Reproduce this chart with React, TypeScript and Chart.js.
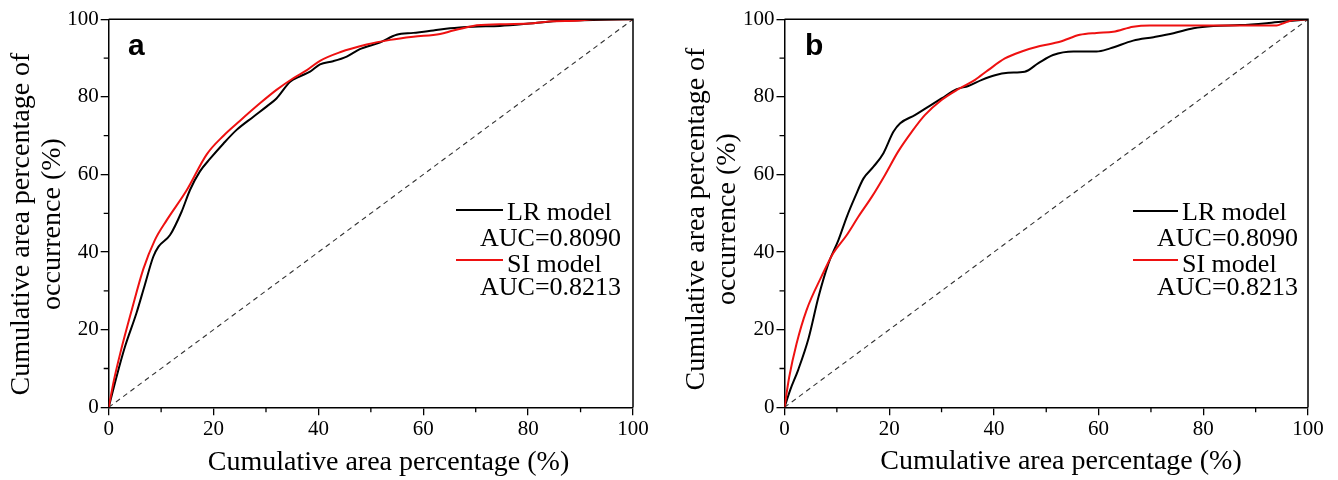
import React, { useEffect, useRef } from "react";
import { Chart, registerables } from "chart.js";

Chart.register(...registerables);

// ---------- data ----------
const majorTicks = [0, 20, 40, 60, 80, 100];
const minorTicks = [10, 30, 50, 70, 90];
const xTitle = "Cumulative area percentage (%)";
const yTitle = ["Cumulative area percentage of", "occurrence (%)"];
const seriesNames = ["LR model", "SI model"];
const aucLabels = ["AUC=0.8090", "AUC=0.8213"];
const panelLabels = ["a", "b"];

// Panel a – LR model
const lrAX = [0, 1.5, 3.1, 5.3, 6.9, 8.5, 9.5, 11.7, 13.9, 15.5, 17.4, 19.3, 21.9, 24.4, 27.6, 30.1, 32, 34.6, 36.5, 38.4, 40.3, 42.8, 45.4, 47.9, 51.7, 54.9, 58.1, 61.9, 65.1, 69.5, 74.6, 81, 86.1, 92.4, 100];
const lrAY = [0, 7.9, 15.6, 24.3, 31.6, 38.8, 41.4, 44.4, 50.4, 56, 60.8, 64.0, 68, 71.5, 74.9, 77.5, 79.6, 83.9, 85.3, 86.5, 88.4, 89.2, 90.4, 92.3, 94, 96, 96.5, 97.1, 97.7, 98.1, 98.3, 99, 99.6, 99.8, 100];
// Panel a – SI model
const siAX = [0, 1.0, 2.2, 4.4, 6.6, 8.8, 11.1, 14.9, 18.7, 21.9, 25, 28.9, 32, 35.2, 37.8, 40.3, 44.1, 49.2, 53.7, 58.1, 63.2, 65.7, 69.5, 74.6, 81, 84.8, 89.3, 92.4, 100];
const siAY = [0, 7.0, 13.9, 25.1, 35.6, 43.1, 48.3, 56.0, 65.2, 70.0, 73.8, 78.4, 81.8, 84.8, 86.9, 89.3, 91.5, 93.5, 94.7, 95.5, 96.2, 97.1, 98.3, 98.7, 99, 99.5, 99.6, 100, 100];
// Panel b – LR model
const lrBX = [0, 1.1, 2.6, 4.6, 6.5, 8.4, 10.3, 11.9, 13.5, 15.1, 17, 18.9, 20.8, 22.1, 24.9, 27.5, 30, 32.9, 35.1, 37.7, 40.2, 42.7, 45.9, 48.5, 51.3, 55.2, 59.6, 62.2, 66.6, 70.5, 74.3, 78.1, 81.9, 87, 92.1, 95.9, 100];
const lrBY = [0, 4.5, 9.6, 17.8, 28.5, 37.1, 43.1, 49.1, 54.3, 59, 62, 65.5, 71, 73.2, 75.3, 77.5, 79.6, 82, 82.8, 84.4, 85.6, 86.2, 86.5, 88.7, 90.8, 91.7, 91.7, 92.5, 94.5, 95.4, 96.4, 97.7, 98.3, 98.5, 99, 99.5, 100];
// Panel b – SI model
const siBX = [0, 0.9, 2.3, 4.2, 7.1, 9.3, 11.9, 14.1, 16.7, 19.2, 21.7, 24.3, 26.8, 30, 33.2, 36.4, 38.9, 42.1, 45.3, 48.8, 52.6, 56.4, 59.6, 62.8, 66.6, 69.8, 79.4, 85.7, 94, 95.3, 97.2, 100];
const siBY = [0, 7.8, 16.4, 25, 33.8, 39.7, 44.4, 49.1, 54.3, 59.9, 65.9, 71, 75.3, 79.2, 82, 84.4, 86.9, 89.9, 91.7, 93.1, 94.2, 96, 96.5, 96.8, 98.1, 98.4, 98.4, 98.4, 98.4, 99, 99.8, 100];
// reference diagonal
const diagX = [0, 100];
const diagY = [0, 100];

// ---------- styling / layout ----------
const W = 669;
const H = 480;
const SERIF = '"Liberation Serif", "Times New Roman", serif';
const SANS = '"Liberation Sans", Arial, sans-serif';
const BLACK = "#000000";
const RED = "#ee1111";

type PanelLayout = {
  offset: number;
  left: number;
  right: number;
  top: number;
  bottom: number;
  xTitleX: number;
  xTitleY: number;
  yTitleX: number[];
  yTitleY: number;
  labelX: number;
  labelY: number;
  legLine: number[];
  legText: number;
  legAuc: number;
  legRows: number[];
};

const layoutA: PanelLayout = {
  offset: 0,
  left: 108.7,
  right: 633,
  top: 19.3,
  bottom: 407.3,
  xTitleX: 388.5,
  xTitleY: 470,
  yTitleX: [29, 60],
  yTitleY: 224,
  labelX: 128,
  labelY: 55,
  legLine: [456, 503],
  legText: 507,
  legAuc: 480,
  legRows: [210, 219.5, 246, 260, 272, 295],
};

const layoutB: PanelLayout = {
  offset: 669,
  left: 115.5,
  right: 639,
  top: 19.3,
  bottom: 407.3,
  xTitleX: 392,
  xTitleY: 469,
  yTitleX: [35, 66],
  yTitleY: 219,
  labelX: 136,
  labelY: 55,
  legLine: [464, 509],
  legText: 513,
  legAuc: 488,
  legRows: [211, 219.5, 246, 260, 272, 295],
};

const pts = (xs: number[], ys: number[]) => xs.map((x, i) => ({ x, y: ys[i] }));

function makeDecor(L: PanelLayout, label: string) {
  return {
    id: "decor",
    afterDraw(chart: any) {
      const ctx = chart.ctx as CanvasRenderingContext2D;
      const ca = chart.chartArea;
      const xs = chart.scales.x;
      const ys = chart.scales.y;
      ctx.save();
      // top & right frame
      ctx.strokeStyle = BLACK;
      ctx.lineWidth = 1.5;
      ctx.beginPath();
      ctx.moveTo(ca.left, ca.top);
      ctx.lineTo(ca.right, ca.top);
      ctx.lineTo(ca.right, ca.bottom);
      ctx.stroke();
      // minor ticks
      ctx.lineWidth = 1.3;
      ctx.beginPath();
      minorTicks.forEach((v) => {
        const px = xs.getPixelForValue(v);
        ctx.moveTo(px, ca.bottom);
        ctx.lineTo(px, ca.bottom + 5);
        const py = ys.getPixelForValue(v);
        ctx.moveTo(ca.left, py);
        ctx.lineTo(ca.left - 5, py);
      });
      ctx.stroke();

      // axis titles
      ctx.fillStyle = BLACK;
      ctx.font = `28px ${SERIF}`;
      ctx.textAlign = "center";
      ctx.textBaseline = "alphabetic";
      ctx.fillText(xTitle, L.xTitleX, L.xTitleY);
      yTitle.forEach((line, i) => {
        ctx.save();
        ctx.translate(L.yTitleX[i], L.yTitleY);
        ctx.rotate(-Math.PI / 2);
        ctx.fillText(line, 0, 0);
        ctx.restore();
      });

      // panel label
      ctx.font = `bold 30px ${SANS}`;
      ctx.textAlign = "left";
      ctx.fillText(label, L.labelX, L.labelY);

      // legend
      const r = L.legRows;
      ctx.lineWidth = 2;
      ctx.strokeStyle = BLACK;
      ctx.beginPath();
      ctx.moveTo(L.legLine[0], r[0]);
      ctx.lineTo(L.legLine[1], r[0]);
      ctx.stroke();
      ctx.strokeStyle = RED;
      ctx.beginPath();
      ctx.moveTo(L.legLine[0], r[3]);
      ctx.lineTo(L.legLine[1], r[3]);
      ctx.stroke();
      ctx.font = `26px ${SERIF}`;
      ctx.fillStyle = BLACK;
      ctx.fillText(seriesNames[0], L.legText, r[1]);
      ctx.fillText(aucLabels[0], L.legAuc, r[2]);
      ctx.fillText(seriesNames[1], L.legText, r[4]);
      ctx.fillText(aucLabels[1], L.legAuc, r[5]);
      ctx.restore();
    },
  };
}

function axisOptions(fit: (s: any) => void) {
  return {
    type: "linear" as const,
    min: 0,
    max: 100,
    afterFit: fit,
    afterBuildTicks: (s: any) => {
      s.ticks = majorTicks.map((v) => ({ value: v }));
    },
    ticks: {
      stepSize: 20,
      color: BLACK,
      padding: 2,
      font: { family: SERIF, size: 21 },
    },
    grid: {
      drawOnChartArea: false,
      drawTicks: true,
      tickLength: 8,
      color: BLACK,
      lineWidth: 1.3,
    },
    border: { display: true, color: BLACK, width: 1.5 },
    title: { display: false },
  };
}

function Panel({ L, label, lr, si }: { L: PanelLayout; label: string; lr: number[][]; si: number[][] }) {
  const ref = useRef<HTMLCanvasElement | null>(null);
  useEffect(() => {
    if (!ref.current) return;
    const chart = new Chart(ref.current, {
      type: "line",
      data: {
        datasets: [
          {
            label: seriesNames[1],
            data: pts(si[0], si[1]),
            borderColor: RED,
            borderWidth: 2,
            pointRadius: 0,
            cubicInterpolationMode: "monotone",
            fill: false,
          },
          {
            label: seriesNames[0],
            data: pts(lr[0], lr[1]),
            borderColor: BLACK,
            borderWidth: 2,
            pointRadius: 0,
            cubicInterpolationMode: "monotone",
            fill: false,
          },
          {
            label: "diagonal",
            data: pts(diagX, diagY),
            borderColor: "#333333",
            borderWidth: 1.1,
            borderDash: [5, 4],
            pointRadius: 0,
            tension: 0,
            fill: false,
          },
        ],
      },
      options: {
        responsive: false,
        animation: false,
        devicePixelRatio: 1,
        parsing: false as any,
        layout: { padding: { left: 0, right: W - L.right, top: L.top, bottom: 0 } },
        plugins: { legend: { display: false }, tooltip: { enabled: false } },
        events: [],
        scales: {
          x: axisOptions((s: any) => {
            s.height = H - L.bottom;
          }),
          y: axisOptions((s: any) => {
            s.width = L.left;
          }),
        },
      },
      plugins: [makeDecor(L, label)],
    } as any);
    return () => chart.destroy();
  }, []);
  return (
    <canvas
      ref={ref}
      width={W}
      height={H}
      style={{ position: "absolute", left: L.offset, top: 0, width: W, height: H }}
    />
  );
}

export default function App() {
  return (
    <div style={{ position: "absolute", left: 0, top: 0, width: 1338, height: 480, background: "#fff" }}>
      <Panel L={layoutA} label={panelLabels[0]} lr={[lrAX, lrAY]} si={[siAX, siAY]} />
      <Panel L={layoutB} label={panelLabels[1]} lr={[lrBX, lrBY]} si={[siBX, siBY]} />
    </div>
  );
}
